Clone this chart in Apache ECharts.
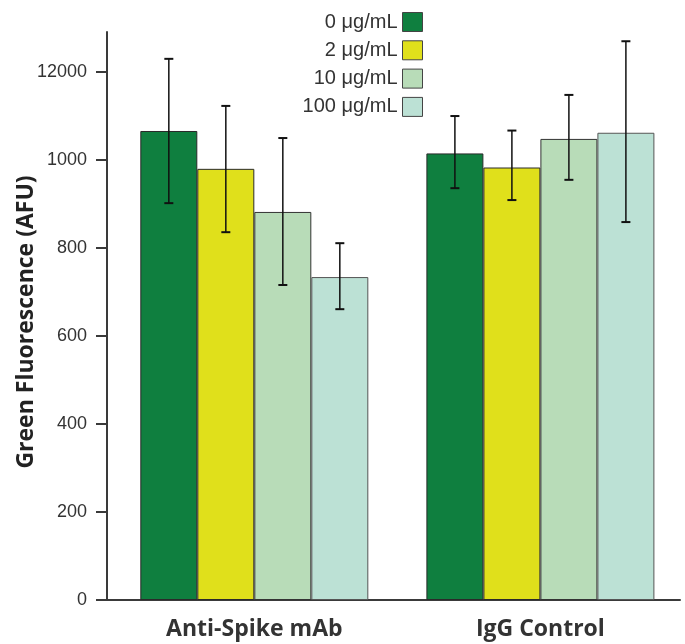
<!DOCTYPE html>
<html>
<head>
<meta charset="utf-8">
<script src="https://cdn.jsdelivr.net/npm/echarts@6/dist/echarts.min.js"></script>
<style>html,body{margin:0;padding:0;background:#fff;}#c{width:685px;height:644px;}</style>
</head>
<body>
<div id="c"></div>
<script>
const categories = ['Anti-Spike mAb', 'IgG Control'];
const seriesNames = ['0 μg/mL', '2 μg/mL', '10 μg/mL', '100 μg/mL'];
const values0 = [1066, 1015];
const values1 = [980, 983];
const values2 = [882, 1048];
const values3 = [734, 1062];
const errHigh0 = [1230, 1100];
const errHigh1 = [1123, 1067];
const errHigh2 = [1050, 1148];
const errHigh3 = [811, 1270];
const errLow0 = [902, 936];
const errLow1 = [836, 909];
const errLow2 = [716, 955];
const errLow3 = [661, 859];
const yTickValues = [0, 200, 400, 600, 800, 1000, 1200];
const yTickLabels = ['0', '200', '400', '600', '800', '1000', '12000'];

const colors = ['#0f7f3f', '#e0e01b', '#b8dcb8', '#bce1d5'];
const borders = ['#2a2a2a', '#2a2a2a', '#333', '#555'];
const allValues = [values0, values1, values2, values3];
const allHigh = [errHigh0, errHigh1, errHigh2, errHigh3];
const allLow = [errLow0, errLow1, errLow2, errLow3];
const catPositions = categories.map((c, i) => i);
const BAR_W = 57;

const errData = [];
for (let s = 0; s < 4; s++) {
  for (let c = 0; c < categories.length; c++) {
    errData.push([catPositions[c], allLow[s][c], allHigh[s][c], s]);
  }
}

const barSeries = seriesNames.map((name, i) => ({
  name: name,
  type: 'bar',
  data: allValues[i].map((v, c) => [catPositions[c], v]),
  barWidth: BAR_W,
  barGap: '0%',
  itemStyle: { color: colors[i], borderColor: borders[i], borderWidth: 1 },
  emphasis: { disabled: true },
  z: 2
}));

const chart = echarts.init(document.getElementById('c'));
chart.setOption({
  animation: false,
  grid: { left: 107, right: 5, top: 32, bottom: 44 },
  legend: {
    data: seriesNames,
    orient: 'vertical',
    align: 'right',
    right: 257,
    top: 7,
    itemWidth: 20,
    itemHeight: 19,
    itemGap: 8.3,
    icon: 'rect',
    itemStyle: { borderColor: '#444', borderWidth: 1 },
    textStyle: { fontFamily: 'Liberation Sans', fontSize: 20, color: '#333' }
  },
  xAxis: {
    type: 'value',
    min: -0.515,
    max: 1.488,
    splitLine: { show: false },
    axisLine: { show: true, onZero: false, lineStyle: { color: '#3a3a3a', width: 2 } },
    axisTick: { show: false },
    axisLabel: {
      customValues: catPositions,
      fontFamily: 'Open Sans',
      fontWeight: 'bold',
      fontSize: 23,
      color: '#333',
      margin: 18,
      formatter: function (v) { const k = catPositions.indexOf(v); return k >= 0 ? categories[k] : ''; }
    }
  },
  yAxis: {
    type: 'value',
    min: 0,
    max: 1291,
    interval: 200,
    splitLine: { show: false },
    axisLine: { show: true, onZero: false, lineStyle: { color: '#3a3a3a', width: 2 } },
    axisTick: { show: true, length: 11, customValues: yTickValues, lineStyle: { color: '#3a3a3a', width: 2 } },
    axisLabel: {
      customValues: yTickValues,
      margin: 20,
      fontFamily: 'Liberation Sans',
      fontSize: 18,
      color: '#333',
      formatter: function (v) { const k = yTickValues.indexOf(v); return k >= 0 ? yTickLabels[k] : ''; }
    }
  },
  graphic: [{
    type: 'text',
    x: 26,
    y: 322,
    rotation: Math.PI / 2,
    style: {
      text: 'Green Fluorescence (AFU)',
      fontFamily: 'Open Sans',
      fontWeight: 'bold',
      fontSize: 23,
      fill: '#222',
      align: 'center',
      verticalAlign: 'middle'
    }
  }],
  series: barSeries.concat([{
    type: 'custom',
    name: 'err',
    data: errData,
    z: 5,
    renderItem: function (params, api) {
      const c = api.value(0);
      const s = api.value(3);
      const lo = api.coord([c, api.value(1)]);
      const hi = api.coord([c, api.value(2)]);
      const x = lo[0] + (s - 1.5) * BAR_W;
      const cap = 4.5;
      return {
        type: 'group',
        children: [
          { type: 'line', shape: { x1: x, y1: lo[1], x2: x, y2: hi[1] }, style: { stroke: '#111', lineWidth: 1.5 } },
          { type: 'line', shape: { x1: x - cap, y1: hi[1], x2: x + cap, y2: hi[1] }, style: { stroke: '#111', lineWidth: 2 } },
          { type: 'line', shape: { x1: x - cap, y1: lo[1], x2: x + cap, y2: lo[1] }, style: { stroke: '#111', lineWidth: 2 } }
        ]
      };
    }
  }])
});
</script>
</body>
</html>
